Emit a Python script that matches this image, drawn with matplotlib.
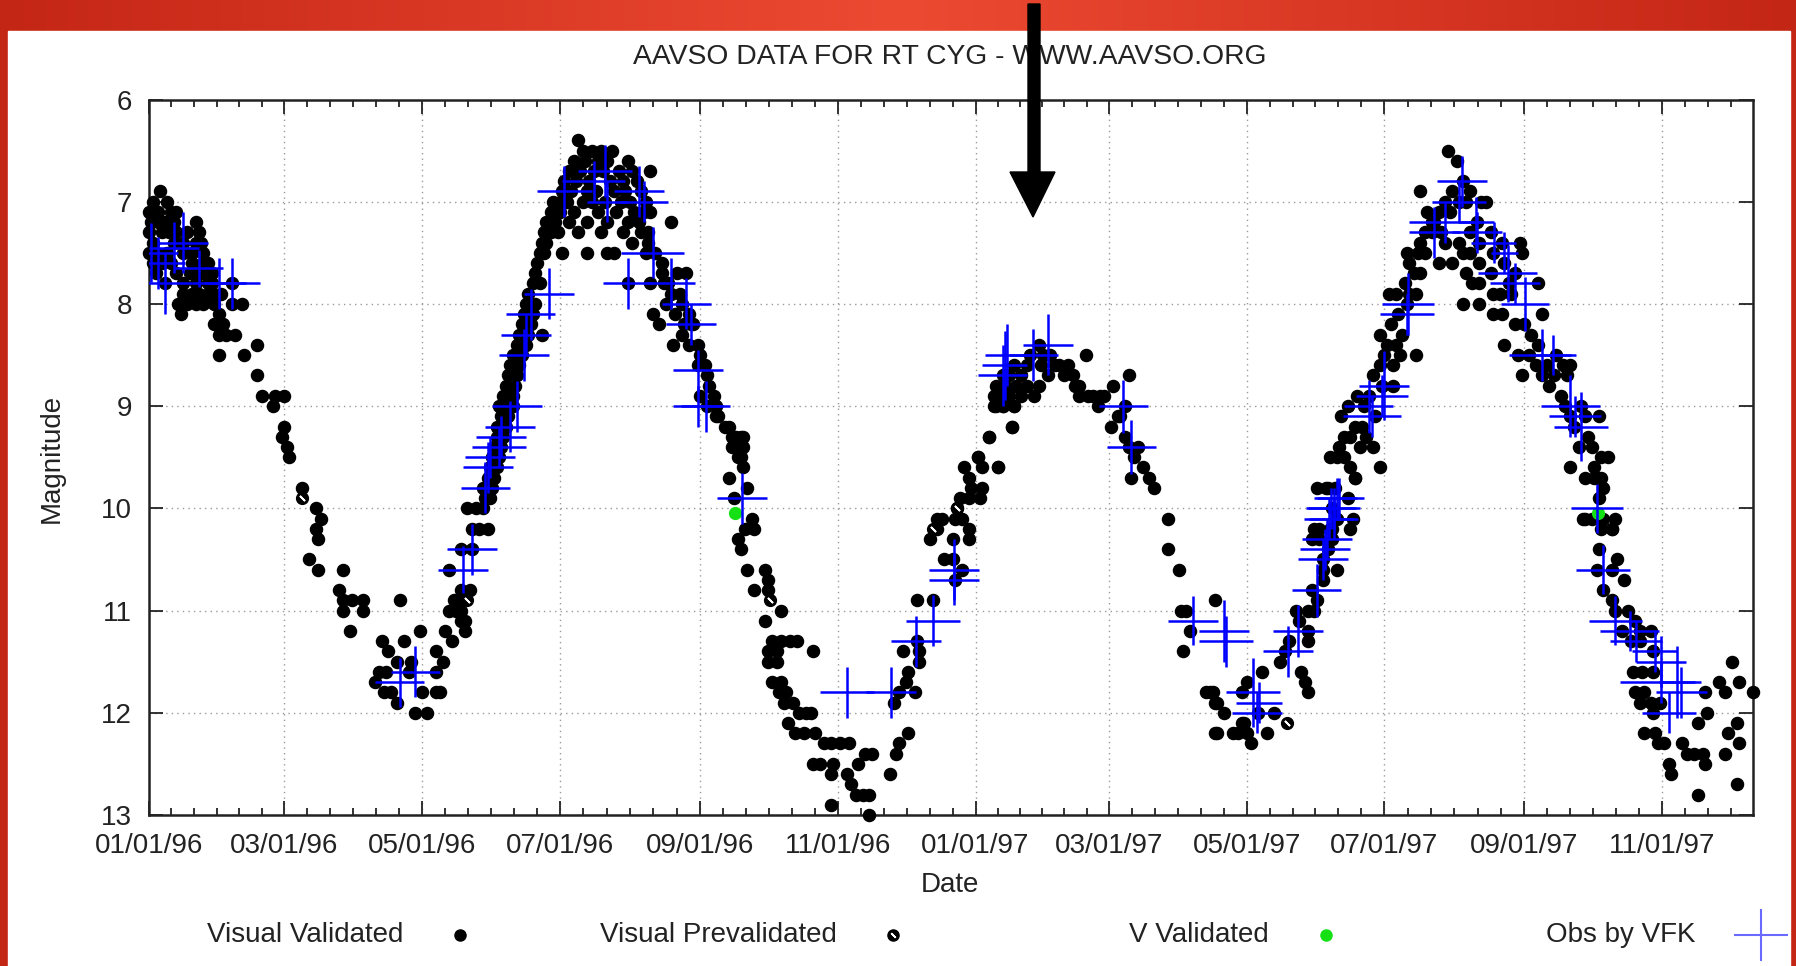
import numpy as np
import matplotlib
matplotlib.use("Agg")
import matplotlib.pyplot as plt
import matplotlib.dates as mdates
from matplotlib.patches import Rectangle, Polygon
from matplotlib.lines import Line2D
from datetime import datetime

plt.rcParams['font.family'] = ['Liberation Sans', 'DejaVu Sans']

# ---- data: (days since 1996-01-01, visual magnitude) ----
vis_decline_1 = [
    (0, 7.1), (2, 7.0), (5, 6.9), (8, 7.0), (1, 7.1), (4, 7.1), (10, 7.1), (12, 7.1),
    (1, 7.2), (4, 7.2), (7, 7.2), (11, 7.2), (21, 7.2),
    (0, 7.3), (6, 7.3), (9, 7.3), (12, 7.3), (17, 7.3), (22, 7.3),
    (2, 7.4), (11, 7.4), (15, 7.4), (21, 7.4), (23, 7.4),
    (0, 7.5), (3, 7.5), (8, 7.5), (15, 7.5), (19, 7.5), (24, 7.5),
    (2, 7.6), (6, 7.6), (10, 7.6), (19, 7.6), (24, 7.6), (26, 7.6),
    (3, 7.7), (12, 7.7), (18, 7.7), (23, 7.7), (28, 7.7),
    (7, 7.8), (15, 7.8), (21, 7.8), (26, 7.8), (28, 7.8), (37, 7.8),
    (15, 7.9), (19, 7.9), (22, 7.9), (26, 7.9), (29, 7.9), (32, 7.9),
    (13, 8.0), (17, 8.0), (21, 8.0), (24, 8.0), (29, 8.0), (37, 8.0), (41, 8.0),
    (14, 8.1), (31, 8.1), (29, 8.2), (33, 8.2), (31, 8.3), (34, 8.3), (38, 8.3),
    (31, 8.5), (42, 8.5), (48, 8.4), (48, 8.7), (50, 8.9), (55, 9.0), (56, 8.9),
    (60, 8.9), (60, 9.2), (59, 9.3), (61, 9.4), (62, 9.5), (68, 9.8),
]
vis_min_1 = [
    (74, 10.0), (76, 10.1), (74, 10.2), (75, 10.3), (71, 10.5), (75, 10.6), (86, 10.6),
    (84, 10.8), (86, 10.9), (90, 10.9), (95, 10.9), (86, 11.0), (95, 11.0), (89, 11.2),
    (103, 11.3), (113, 11.3), (111, 10.9), (120, 11.2), (106, 11.4), (110, 11.5), (116, 11.5),
    (102, 11.6), (105, 11.6), (115, 11.6), (127, 11.6), (100, 11.7), (104, 11.8), (107, 11.8),
    (121, 11.8), (127, 11.8), (129, 11.8), (110, 11.9), (118, 12.0), (123, 12.0), (127, 11.4),
    (130, 11.5), (131, 11.2), (134, 11.3), (133, 11.0), (136, 11.0), (138, 11.0), (135, 10.9),
    (138, 10.9), (140, 11.2), (140, 11.1), (138, 11.1), (138, 10.8), (142, 10.8), (133, 10.6),
    (138, 10.4), (143, 10.4), (143, 10.2), (146, 10.2), (150, 10.2), (141, 10.0), (145, 10.0),
    (148, 10.0),
]
vis_rise_1 = [
    (149, 9.9), (151, 9.9), (148, 9.8), (152, 9.8), (150, 9.7), (153, 9.7), (151, 9.6),
    (154, 9.6), (152, 9.5), (155, 9.5), (153, 9.4), (156, 9.4), (154, 9.3), (157, 9.3),
    (154, 9.2), (158, 9.2), (156, 9.1), (159, 9.1), (155, 9.0), (158, 9.0), (161, 9.0),
    (157, 8.9), (161, 8.9), (158, 8.8), (162, 8.8), (159, 8.7), (163, 8.7), (160, 8.6),
    (164, 8.6), (161, 8.5), (165, 8.5), (163, 8.4), (167, 8.4), (164, 8.3), (168, 8.3),
    (174, 8.3), (165, 8.2), (169, 8.2), (166, 8.1), (170, 8.1), (167, 8.0), (171, 8.0),
    (168, 7.9), (170, 7.8), (173, 7.8), (171, 7.7), (172, 7.6), (173, 7.5), (175, 7.5),
    (174, 7.4), (176, 7.4), (175, 7.3), (178, 7.3), (176, 7.2), (180, 7.2), (178, 7.1),
    (181, 7.1), (179, 7.0), (182, 7.0),
]
vis_peak_1 = [
    (190, 6.4), (192, 6.5), (196, 6.5), (200, 6.5), (205, 6.5),
    (188, 6.6), (193, 6.6), (199, 6.6), (203, 6.6), (212, 6.6),
    (186, 6.7), (191, 6.7), (197, 6.7), (201, 6.7), (208, 6.7), (214, 6.7), (222, 6.7),
    (184, 6.8), (189, 6.8), (195, 6.8), (204, 6.8), (210, 6.8), (216, 6.8),
    (183, 6.9), (187, 6.9), (194, 6.9), (198, 6.9), (206, 6.9), (211, 6.9), (218, 6.9),
    (185, 7.0), (192, 7.0), (196, 7.0), (202, 7.0), (209, 7.0), (213, 7.0), (220, 7.0),
    (182, 7.1), (188, 7.1), (199, 7.1), (207, 7.1), (215, 7.1), (219, 7.1), (222, 7.1),
    (186, 7.2), (194, 7.2), (203, 7.2), (212, 7.2), (217, 7.2), (231, 7.2),
    (181, 7.3), (190, 7.3), (200, 7.3), (210, 7.3), (221, 7.3), (214, 7.4),
    (183, 7.5), (194, 7.5), (203, 7.5), (206, 7.5), (220, 7.5),
]
vis_decline_2 = [
    (222, 7.8), (228, 7.8), (212, 7.8), (223, 8.1), (226, 8.2), (232, 8.4), (238, 7.7),
    (236, 8.0), (240, 8.2), (243, 8.6), (244, 8.9), (218, 7.3), (221, 7.4), (224, 7.5),
    (227, 7.6), (227, 7.7), (230, 7.8), (229, 8.0), (233, 8.1), (235, 7.9), (237, 8.2),
    (241, 8.2), (239, 8.4), (243, 8.4), (244, 8.5), (246, 8.6), (247, 8.7), (248, 8.8),
    (250, 8.9), (251, 9.0), (252, 9.1), (255, 9.2), (258, 9.3), (259, 9.4), (261, 9.5),
    (234, 7.7), (231, 7.9), (239, 8.1), (236, 8.3),
    (247, 9.0), (251, 9.1), (257, 9.2), (260, 9.3), (262, 9.3), (263, 9.3), (258, 9.4),
    (263, 9.4), (262, 9.5), (257, 9.7), (263, 9.6), (265, 9.8), (259, 9.9),
]
vis_min_2 = [
    (267, 10.1), (268, 10.2), (264, 10.2), (261, 10.3), (262, 10.4), (265, 10.6), (268, 10.8),
    (273, 10.6), (274, 10.7), (274, 10.8), (280, 11.0), (273, 11.1), (276, 11.3), (280, 11.3),
    (284, 11.3), (287, 11.3), (294, 11.4), (274, 11.4), (278, 11.4), (274, 11.5), (278, 11.5),
    (276, 11.7), (280, 11.7), (279, 11.8), (282, 11.8), (281, 11.9), (285, 11.9), (288, 12.0),
    (291, 12.0), (293, 12.0), (283, 12.1), (286, 12.2), (290, 12.2), (295, 12.2), (299, 12.3),
    (302, 12.3), (306, 12.3), (310, 12.3), (294, 12.5), (297, 12.5), (303, 12.5), (302, 12.6),
    (302, 12.9), (309, 12.6), (311, 12.7), (313, 12.8), (316, 12.8), (319, 12.8), (319, 13.0),
    (314, 12.5), (317, 12.4), (320, 12.4), (328, 12.6), (331, 12.4), (332, 12.3), (336, 12.2),
    (330, 11.9), (332, 11.8), (339, 11.8), (335, 11.7), (336, 11.6), (334, 11.4), (341, 11.4),
    (341, 11.5), (340, 11.3), (340, 10.9), (347, 10.9), (346, 10.3), (349, 10.2), (349, 10.1),
    (351, 10.1), (356, 10.3), (352, 10.5), (356, 10.5), (360, 10.6), (357, 10.7), (358, 10.0),
    (357, 10.1), (360, 10.1), (361, 9.6), (363, 9.7), (359, 9.9), (363, 9.9), (363, 10.2),
    (363, 10.3), (364, 9.8), (367, 9.5), (369, 9.6), (369, 9.8), (368, 9.9), (376, 9.6),
    (372, 9.3), (382, 9.2), (374, 9.0), (378, 9.0), (383, 9.0),
]
vis_peak_2 = [
    (367, 9.5), (372, 9.3), (376, 9.6), (382, 9.2), (374, 8.9), (377, 8.9), (381, 8.9),
    (375, 9.0), (378, 9.0), (383, 9.0), (375, 8.8), (379, 8.8), (384, 8.8), (381, 8.7),
    (386, 8.7), (389, 8.8), (392, 8.9), (394, 8.8), (390, 8.5), (394, 8.4), (396, 8.5),
    (399, 8.5), (403, 8.6), (405, 8.7), (409, 8.7), (412, 8.8), (412, 8.9), (415, 8.5),
    (418, 8.9), (420, 9.0), (421, 8.9), (426, 9.2), (427, 8.8), (429, 9.1), (434, 8.7),
    (432, 9.0), (434, 9.4), (435, 9.7), (440, 9.6), (443, 9.7), (445, 9.8),
    (378, 8.7), (383, 8.6), (386, 8.9), (389, 8.6), (395, 8.6), (398, 8.7), (401, 8.6),
    (407, 8.6), (410, 8.8), (416, 8.9), (423, 8.9), (430, 9.1), (432, 9.3), (436, 9.5),
    (438, 9.4),
]
vis_min_3 = [
    (451, 10.1), (451, 10.4), (456, 10.6), (472, 10.9), (457, 11.0), (458, 11.4), (468, 11.8),
    (471, 11.8), (472, 11.9), (476, 12.0), (473, 12.2), (480, 12.2), (484, 12.1),
    (459, 11.0), (461, 11.2), (470, 11.8), (473, 11.9), (472, 12.2), (482, 12.2), (486, 12.2),
    (488, 12.3), (485, 12.1), (486, 11.7), (484, 11.8), (493, 11.6), (495, 12.2), (491, 12.0),
    (498, 12.0), (501, 11.5), (505, 11.3), (503, 11.4), (510, 11.6), (512, 11.7), (513, 11.8),
    (509, 11.1), (513, 11.2), (513, 11.3), (508, 11.0), (513, 11.0), (516, 11.0), (517, 10.9),
    (515, 10.8), (516, 10.2), (518, 10.3), (520, 10.7), (520, 10.6), (520, 10.5), (522, 10.4),
    (524, 10.3), (524, 10.2), (526, 10.1), (524, 10.0), (526, 10.6), (532, 10.2), (533, 10.1),
    (531, 9.9), (522, 9.8), (525, 9.8), (534, 9.7),
]
vis_rise_3 = [
    (515, 10.3), (518, 10.2), (523, 10.2), (517, 9.8), (521, 9.8), (526, 9.5), (529, 9.5),
    (523, 9.5), (532, 9.6), (534, 9.7), (527, 9.4), (529, 9.3), (534, 9.2), (537, 9.2),
    (532, 9.3), (528, 9.1), (539, 9.3), (542, 9.4), (545, 9.6), (542, 8.7), (545, 8.6),
    (546, 8.8), (551, 8.8), (545, 8.3), (548, 8.4), (552, 8.4), (554, 8.5), (549, 7.9),
    (552, 7.9), (557, 8.0), (561, 8.5), (556, 7.8), (560, 7.7), (558, 7.6), (562, 7.5),
    (565, 7.5), (557, 7.5), (563, 7.4), (565, 7.3), (568, 7.3), (563, 6.9), (566, 7.1),
    (569, 7.2),
    (531, 9.0), (535, 8.9), (538, 9.0), (536, 9.4), (540, 8.9), (543, 9.1), (547, 8.5),
    (550, 8.2), (553, 8.1), (555, 8.3), (551, 8.6), (558, 7.9), (561, 7.9), (563, 7.7),
]
vis_peak_3 = [
    (575, 6.5), (579, 6.6), (582, 6.8), (585, 6.9), (574, 7.0), (580, 7.0), (592, 7.0),
    (571, 7.1), (576, 7.1), (568, 7.2), (588, 7.2), (585, 7.3), (574, 7.4), (580, 7.4),
    (582, 7.5), (585, 7.5), (571, 7.6), (577, 7.6), (583, 7.7), (582, 8.0), (589, 8.0),
    (586, 7.8), (589, 7.8), (595, 7.5), (599, 7.4), (600, 7.6), (607, 7.4), (608, 7.5),
    (605, 7.7), (595, 7.9), (598, 7.9), (615, 7.8), (595, 8.1), (599, 8.1), (600, 8.4),
    (605, 8.2), (609, 8.2), (617, 8.1), (606, 8.5), (611, 8.5), (608, 8.7), (614, 8.6),
    (617, 8.7), (623, 8.5), (626, 8.6), (629, 8.6), (628, 8.7), (620, 8.8), (625, 8.9),
    (629, 9.1), (636, 9.1), (634, 9.0), (642, 9.1), (629, 9.6), (633, 9.4), (639, 9.4),
    (643, 9.5), (646, 9.5), (636, 9.7), (640, 9.7), (643, 9.7), (642, 9.9), (636, 10.1),
    (649, 10.1), (648, 10.2),
    (577, 6.9), (583, 7.0), (572, 7.3), (589, 7.4), (594, 7.3), (589, 7.6), (594, 7.7),
    (602, 7.8), (603, 7.9), (590, 7.0),
    (612, 8.3), (615, 8.4), (619, 8.6), (622, 8.7), (627, 9.0), (631, 9.2), (637, 9.3),
    (640, 9.6), (644, 9.8),
]
vis_decline_3 = [
    (641, 9.7), (635, 10.1), (639, 10.1), (644, 10.1), (643, 10.2), (648, 10.2), (642, 10.4),
    (650, 10.5), (653, 10.7), (648, 10.6), (641, 10.6), (644, 10.8), (648, 10.9), (649, 11.0),
    (655, 11.0), (658, 11.1), (652, 11.2), (660, 11.2), (665, 11.2), (656, 11.3), (660, 11.3),
    (666, 11.4), (657, 11.6), (661, 11.6), (666, 11.6), (658, 11.8), (662, 11.8), (660, 11.9),
    (665, 11.9), (669, 11.9), (666, 12.0), (662, 12.2), (667, 12.2), (668, 12.3), (671, 12.3),
    (673, 12.5), (674, 12.6), (679, 12.3), (681, 12.4), (684, 12.4), (688, 12.4), (689, 12.5),
    (686, 12.8), (686, 12.1), (690, 12.0), (689, 11.8), (695, 11.7), (698, 11.8), (701, 11.5),
    (704, 11.7), (710, 11.8), (699, 12.2), (698, 12.4), (703, 12.1), (704, 12.3), (703, 12.7),
]

prevalidated = [(68, 9.9), (141, 10.9), (275, 10.9), (347, 10.2), (358, 10.0), (504, 12.1)]
v_validated = [(259.5, 10.05), (641.5, 10.05)]

# VFK observations: (day, mag, half-width in days, half-height in mag)
vfk_obs = [
    (1, 7.5, 12, 0.29), (4, 7.6, 12, 0.25), (11, 7.45, 11, 0.25), (15, 7.4, 11, 0.3),
    (22, 7.65, 11, 0.18), (7, 7.8, 12, 0.3), (31, 7.8, 12, 0.25), (37, 7.8, 12, 0.25),
    (111, 11.7, 11, 0.24), (118, 11.6, 11, 0.25), (139, 10.6, 11, 0.23), (143, 10.4, 11, 0.25),
    (149, 9.8, 11, 0.25), (150, 9.6, 11, 0.25), (151, 9.5, 11, 0.2), (155, 9.4, 12, 0.2),
    (156, 9.3, 11, 0.2), (160, 9.2, 11, 0.25), (163, 9.0, 11, 0.25), (166, 8.5, 11, 0.25),
    (167, 8.3, 11, 0.2), (169, 8.1, 11, 0.25), (177, 7.9, 11, 0.25),
    (184, 6.9, 12, 0.25), (197, 6.8, 14, 0.2), (202, 6.7, 12, 0.25), (203, 7.0, 9, 0.2),
    (217, 6.9, 11, 0.25), (219, 7.0, 11, 0.2), (223, 7.5, 14, 0.25), (212, 7.8, 11, 0.25),
    (231, 7.8, 11, 0.25), (238, 8.0, 11, 0.25), (240, 8.2, 11, 0.2), (243, 8.65, 11, 0.2),
    (243, 9.0, 11, 0.2), (246.5, 9.0, 11, 0.25), (262.6, 9.9, 11, 0.25),
    (309, 11.8, 12, 0.25), (328.6, 11.8, 11, 0.25), (339.7, 11.3, 11, 0.25),
    (347.3, 11.1, 12, 0.25), (356.6, 10.6, 11, 0.3), (356.6, 10.7, 11, 0.25),
    (379, 8.6, 10, 0.34), (378, 8.7, 11, 0.3), (380, 8.5, 10, 0.3), (391.6, 8.5, 11, 0.25),
    (398, 8.4, 11, 0.3), (431.5, 9.0, 11, 0.26), (435, 9.4, 11, 0.26),
    (462.4, 11.1, 11, 0.24), (476, 11.2, 11, 0.3), (477, 11.3, 12, 0.25), (488.8, 11.8, 12, 0.34),
    (491.5, 11.9, 10, 0.2), (490.6, 12.0, 11, 0.2), (504.3, 11.4, 11, 0.25), (508.9, 11.2, 11, 0.25),
    (517, 10.8, 11, 0.26), (519.8, 10.5, 11, 0.2), (520.7, 10.4, 11, 0.2), (521.6, 10.3, 11, 0.2),
    (522.5, 10.1, 11, 0.2), (523.5, 10.0, 11, 0.2), (527, 9.9, 11, 0.2),
    (524.5, 10.0, 11.5, 0.2), (524.5, 10.1, 11, 0.2), (526, 9.9, 9, 0.2),
    (540, 9.0, 11, 0.26), (541.5, 9.1, 13, 0.2), (546.8, 8.8, 11, 0.34), (546, 8.9, 11.5, 0.2),
    (557.6, 8.0, 11.5, 0.3), (557, 8.1, 12, 0.2), (569.2, 7.3, 11.5, 0.25), (573.8, 7.2, 16, 0.2),
    (581.5, 6.8, 11, 0.25), (580, 7.0, 12, 0.2), (587.7, 7.2, 8, 0.25), (588, 7.3, 11, 0.2),
    (595.4, 7.4, 10, 0.2), (600, 7.5, 6, 0.2), (601.6, 7.7, 13, 0.28), (604.7, 7.8, 11, 0.2),
    (609.3, 8.0, 10.5, 0.26), (617, 8.5, 15, 0.25), (621.6, 8.5, 8, 0.2), (629.3, 9.0, 13, 0.3),
    (631.6, 9.1, 11.5, 0.2), (633.9, 9.2, 12, 0.34),
    (641.1, 10.0, 11.4, 0.24), (643.9, 10.6, 11.9, 0.24), (649.3, 11.1, 11.9, 0.24),
    (655.7, 11.2, 13, 0.2), (658.4, 11.3, 11.4, 0.2), (666.7, 11.4, 10, 0.2), (669.4, 11.5, 11, 0.25),
    (669.4, 11.7, 18, 0.2), (678.5, 11.8, 11.4, 0.25), (673, 12.0, 12, 0.2), (676.7, 11.7, 8, 0.35),
]

tick_dates = ["1996-01-01", "1996-03-01", "1996-05-01", "1996-07-01", "1996-09-01", "1996-11-01",
              "1997-01-01", "1997-03-01", "1997-05-01", "1997-07-01", "1997-09-01", "1997-11-01"]
x_end_day = 710
mag_ticks = [6, 7, 8, 9, 10, 11, 12, 13]

# ---- figure ----
W, H = 1796, 966
fig = plt.figure(figsize=(W / 100, H / 100), dpi=100)

# red frame with a soft horizontal gradient, white card inside
bg = fig.add_axes([0, 0, 1, 1], zorder=-10)
t = np.linspace(0, 1, 512)
k = 1 - np.abs(2 * t - 1)
edge = np.array([196, 38, 22]) / 255
mid = np.array([237, 74, 50]) / 255
grad = edge[None, :] + (mid - edge)[None, :] * k[:, None]
bg.imshow(grad[None, :, :], extent=[0, 1, 0, 1], aspect='auto')
bg.add_patch(Rectangle((8 / W, 0), (1790 - 8) / W, (H - 31) / H, color='white'))
bg.set_xlim(0, 1)
bg.set_ylim(0, 1)
bg.axis('off')

left, right, top, bottom = 148.9, 1752.5, 99.5, 815
ax = fig.add_axes([left / W, 1 - bottom / H, (right - left) / W, (bottom - top) / H])

base = mdates.date2num(datetime(1996, 1, 1))

vis = (vis_decline_1 + vis_min_1 + vis_rise_1 + vis_peak_1 + vis_decline_2 + vis_min_2 +
       vis_peak_2 + vis_min_3 + vis_rise_3 + vis_peak_3 + vis_decline_3)
vd = np.array([p[0] for p in vis]) + base
vm = np.array([p[1] for p in vis])
ax.plot(vd, vm, 'o', color='black', ms=8.7, ls='none', zorder=3, clip_on=False)

pd_ = np.array([p[0] for p in prevalidated]) + base
pm = np.array([p[1] for p in prevalidated])
ax.plot(pd_, pm, 'o', color='black', ms=8.5, ls='none', zorder=4)
ax.plot(pd_, pm, marker=(2, 2, 45), color='white', ms=5, mew=1.3, ls='none', zorder=4)

gd = np.array([p[0] for p in v_validated]) + base
gm = np.array([p[1] for p in v_validated])
ax.plot(gd, gm, 'o', color='#14e014', ms=8.5, ls='none', zorder=5)

fx = np.array([o[0] for o in vfk_obs]) + base
fy = np.array([o[1] for o in vfk_obs])
fxe = np.array([o[2] for o in vfk_obs])
fye = np.array([o[3] for o in vfk_obs])
ax.errorbar(fx, fy, xerr=fxe, yerr=fye, fmt='none', ecolor='#0000ff', elinewidth=1.8,
            capsize=0, zorder=6)

# axes
major = [mdates.date2num(datetime.strptime(d, "%Y-%m-%d")) for d in tick_dates]
ax.set_xlim(base, base + x_end_day)
ax.set_ylim(13, 6)
ax.set_xticks(major)
ax.xaxis.set_major_formatter(mdates.DateFormatter("%m/%d/%y"))
minor = []
for a, b in zip(major[:-1], major[1:]):
    minor += list(np.linspace(a, b, 7)[1:-1])
step = (major[-1] - major[-2]) / 6
m = major[-1] + step
while m < base + x_end_day - 1:
    minor.append(m)
    m += step
ax.set_xticks(minor, minor=True)
ax.set_yticks(mag_ticks)
ax.tick_params(which='both', direction='in', top=True, right=True, labelsize=20,
               colors='#222222')
ax.tick_params(which='major', length=10, width=1.3)
ax.tick_params(which='minor', length=5, width=1.3)
ax.tick_params(axis='x', pad=13)
ax.tick_params(axis='y', pad=12)
ax.grid(True, which='major', color='#9a9a9a', linestyle=(0, (1, 3)), linewidth=1)
for s in ax.spines.values():
    s.set_linewidth(1.8)
    s.set_color('#222222')

# texts
fig.text(950 / W, 1 - 57 / H, "AAVSO DATA FOR RT CYG - WWW.AAVSO.ORG", ha='center',
         va='center', fontsize=20.3, color='#222222')
fig.text(52 / W, 1 - 458 / H, "Magnitude", rotation=90, ha='center', va='center',
         fontsize=20, color='#222222')
fig.text(950 / W, 1 - 885 / H, "Date", ha='center', va='center', fontsize=20, color='#222222')

# legend row
ly = 1 - 935 / H
legend_items = [("Visual Validated", 403, 460), ("Visual Prevalidated", 837, 893),
                ("V Validated", 1269, 1326), ("Obs by VFK", 1695, 1760)]
for label, tx, mx in legend_items:
    fig.text(tx / W, ly, label, ha='right', va='center', fontsize=20, color='#222222')
fig.lines.append(Line2D([460 / W], [ly], marker='o', color='black', ms=8, ls='none',
                        transform=fig.transFigure))
fig.lines.append(Line2D([893 / W], [ly], marker='o', color='black', ms=8, ls='none',
                        transform=fig.transFigure))
fig.lines.append(Line2D([893 / W], [ly], marker=(2, 2, 45), color='white', ms=4.5, mew=1.2,
                        ls='none', transform=fig.transFigure))
fig.lines.append(Line2D([1326 / W], [ly], marker='o', color='#14e014', ms=8, ls='none',
                        transform=fig.transFigure))
fig.lines.append(Line2D([1735 / W, 1787 / W], [ly, ly], color='#6a6aff', lw=1.5,
                        transform=fig.transFigure))
fig.lines.append(Line2D([1761 / W, 1761 / W], [1 - 910 / H, 1 - 960 / H], color='#6a6aff', lw=1.5,
                        transform=fig.transFigure))

# big arrow pointing at the secondary maximum
arrow_px = [(1028, 4), (1040, 4), (1040, 172), (1055, 172), (1033, 217), (1010, 172), (1028, 172)]
fig.patches.append(Polygon([(x / W, 1 - y / H) for x, y in arrow_px], closed=True,
                           color='black', transform=fig.transFigure, zorder=20))

fig.savefig("out.png", dpi=100)
